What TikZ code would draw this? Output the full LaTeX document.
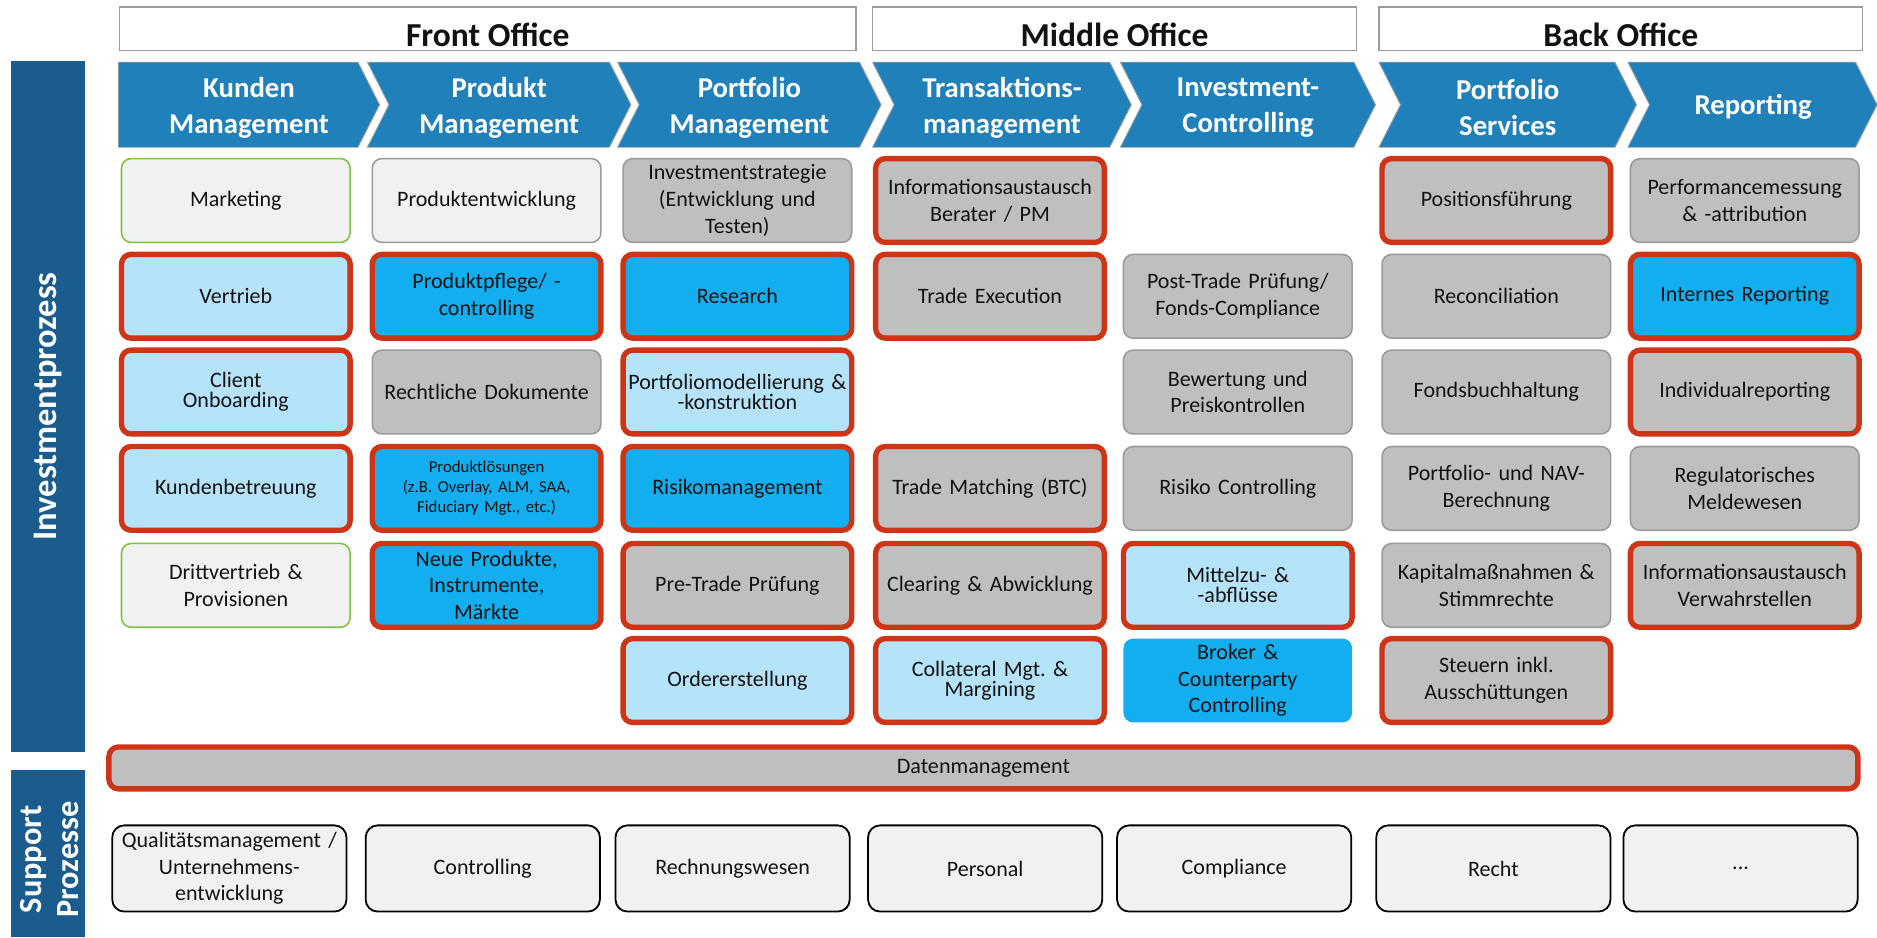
\documentclass[tikz,border=0pt]{standalone}
\usepackage{fontspec}
\setmainfont{Carlito}
\definecolor{sidec}{HTML}{1B5C8E}
\definecolor{chevc}{HTML}{1F80BA}
\definecolor{chevline}{HTML}{8E9BA6}
\definecolor{redc}{HTML}{CD3516}
\definecolor{cyanc}{HTML}{12AEEF}
\definecolor{lblue}{HTML}{B5E3FA}
\definecolor{grayc}{HTML}{BFBFBF}
\definecolor{lightc}{HTML}{F0F2F2}
\definecolor{greenc}{HTML}{7DC242}
\definecolor{grayline}{HTML}{9A9A9A}
\definecolor{txt}{HTML}{121212}
\newcommand\fs{\fontsize{18.4}{22.3}\selectfont}
\newcommand\fst{\fontsize{18.4}{16.8}\selectfont}
\newcommand\fsm{\fontsize{14}{16.7}\selectfont}
\tikzset{
  bx/.style={rectangle, rounded corners=8pt, minimum width=191pt, minimum height=70pt,
    align=center, font=\fs, text=txt, inner sep=1pt, text width=189pt},
  redb/.style={draw=redc, line width=4.5pt},
  grayb/.style={draw=grayline, line width=1.3pt},
  greenb/.style={draw=greenc, line width=1.3pt},
  fgray/.style={fill=grayc},
  flb/.style={fill=lblue},
  fcy/.style={fill=cyanc},
  flt/.style={fill=lightc},
  sup/.style={rectangle, rounded corners=10pt, minimum width=191pt, minimum height=72pt,
    align=center, font=\fs, text=txt, fill=lightc, draw=black, line width=1.5pt, text width=189pt},
  office/.style={rectangle, draw=grayline, line width=1.2pt, fill=white, minimum height=36pt},
  officetext/.style={font=\fontsize{28}{32}\bfseries\selectfont, text=txt},
  chevtext/.style={align=center, text=white, font=\fontsize{24}{30}\bfseries\selectfont},
  chevshape/.style={fill=chevc, draw=chevline, line width=0.8pt},
  side/.style={fill=sidec},
  sidetext/.style={rotate=90, align=center, text=white}
}
\newcommand\mybox[5]{\node[bx,#4] (#1) at (#2,#3) {#5};}
\begin{document}
\frenchspacing
\begin{tikzpicture}[x=1pt,y=-1pt]
\useasboundingbox (0,0) rectangle (1568,783);
% sidebars
\fill[side] (9,51) rectangle (71,628);
\node[sidetext, font=\fontsize{28.8}{32}\bfseries\selectfont] (invp) at (40,339.5) {Investmentprozess};
\fill[side] (9,643) rectangle (71,783);
\node[sidetext, font=\fontsize{27}{31}\bfseries\selectfont] (supp) at (41,718) {Support\\Prozesse};
% office headers
\node[office, minimum width=615pt] (fo) at (407.5,24) {};
\node[officetext] (fot) at (407.5,29) {Front Office};
\node[office, minimum width=404pt] (mo) at (931,24) {};
\node[officetext] (mot) at (931,29) {Middle Office};
\node[office, minimum width=404pt] (bo) at (1354,24) {};
\node[officetext] (bot) at (1354,29) {Back Office};
% chevrons
\draw[chevshape] (99,52) -- (299,52) -- (317,87.5) -- (299,123) -- (99,123) -- cycle;
\node[chevtext] (ch1) at (208,90) {Kunden\\Management};
\draw[chevshape] (307,52) -- (509,52) -- (527,87.5) -- (509,123) -- (307,123) -- (325,87.5) -- cycle;
\node[chevtext] (ch2) at (417,90) {Produkt\\Management};
\draw[chevshape] (516,52) -- (718,52) -- (736,87.5) -- (718,123) -- (516,123) -- (534,87.5) -- cycle;
\node[chevtext] (ch3) at (626,90) {Portfolio\\Management};
\draw[chevshape] (729,52) -- (927,52) -- (945,87.5) -- (927,123) -- (729,123) -- (747,87.5) -- cycle;
\node[chevtext] (ch4) at (837,90) {Transaktions-\\management};
\draw[chevshape] (936,52) -- (1131,52) -- (1149,87.5) -- (1131,123) -- (936,123) -- (954,87.5) -- cycle;
\node[chevtext] (ch5) at (1042.5,90) {Investment-\\Controlling};
\draw[chevshape] (1152,52) -- (1349,52) -- (1367,87.5) -- (1349,123) -- (1152,123) -- (1170,87.5) -- cycle;
\node[chevtext] (ch6) at (1259.5,90) {Portfolio\\Services};
\draw[chevshape] (1360,52) -- (1550,52) -- (1568,87.5) -- (1550,123) -- (1360,123) -- (1378,87.5) -- cycle;
\node[chevtext] (ch7) at (1464.5,89) {Reporting};
% row 1
\mybox{a1}{197}{167.5}{flt,greenb}{Marketing}
\mybox{b1}{406.5}{167.5}{flt,grayb}{Produktentwicklung}
\mybox{c1}{616}{167.5}{fgray,grayb}{Investmentstrategie\\(Entwicklung und\\Testen)}
\mybox{d1}{827}{167.5}{fgray,redb}{Informationsaustausch\\Berater / PM}
\mybox{f1}{1250}{167.5}{fgray,redb}{Positionsführung}
\mybox{g1}{1457.5}{167.5}{fgray,grayb}{Performancemessung\\\& -attribution}
% row 2
\mybox{a2}{197}{247.5}{flb,redb}{Vertrieb}
\mybox{b2}{406.5}{247.5}{fcy,redb}{Produktpflege/ -\\controlling}
\mybox{c2}{616}{247.5}{fcy,redb}{Research}
\mybox{d2}{827}{247.5}{fgray,redb}{Trade Execution}
\mybox{e2}{1034}{247.5}{fgray,grayb}{Post-Trade Prüfung/\\Fonds-Compliance}
\mybox{f2}{1250}{247.5}{fgray,grayb}{Reconciliation}
\mybox{g2}{1457.5}{247.5}{fcy,redb}{Internes Reporting}
% row 3
\mybox{a3}{197}{327.5}{flb,redb,font=\fst}{Client\\Onboarding}
\mybox{b3}{406.5}{327.5}{fgray,grayb}{Rechtliche Dokumente}
\mybox{c3}{616}{327.5}{flb,redb,font=\fst}{Portfoliomodellierung \&\\-konstruktion}
\mybox{e3}{1034}{327.5}{fgray,grayb}{Bewertung und\\Preiskontrollen}
\mybox{f3}{1250}{327.5}{fgray,grayb}{Fondsbuchhaltung}
\mybox{g3}{1457.5}{327.5}{fgray,redb}{Individualreporting}
% row 4
\mybox{a4}{197}{408}{flb,redb}{Kundenbetreuung}
\mybox{b4}{406.5}{408}{fcy,redb,font=\fsm}{Produktlösungen\\(z.B. Overlay, ALM, SAA,\\Fiduciary Mgt., etc.)}
\mybox{c4}{616}{408}{fcy,redb}{Risikomanagement}
\mybox{d4}{827}{408}{fgray,redb}{Trade Matching (BTC)}
\mybox{e4}{1034}{408}{fgray,grayb}{Risiko Controlling}
\mybox{f4}{1250}{408}{fgray,grayb}{Portfolio- und NAV-\\Berechnung}
\mybox{g4}{1457.5}{408}{fgray,grayb}{Regulatorisches\\Meldewesen}
% row 5
\mybox{a5}{197}{489}{flt,greenb}{Drittvertrieb \&\\Provisionen}
\mybox{b5}{406.5}{489}{fcy,redb}{Neue Produkte,\\Instrumente,\\Märkte}
\mybox{c5}{616}{489}{fgray,redb}{Pre-Trade Prüfung}
\mybox{d5}{827}{489}{fgray,redb}{Clearing \& Abwicklung}
\mybox{e5}{1034}{489}{flb,redb,font=\fst}{Mittelzu- \&\\-abflüsse}
\mybox{f5}{1250}{489}{fgray,grayb}{Kapitalmaßnahmen \&\\Stimmrechte}
\mybox{g5}{1457.5}{489}{fgray,redb}{Informationsaustausch\\Verwahrstellen}
% row 6
\mybox{c6}{616}{568.5}{flb,redb}{Ordererstellung}
\mybox{d6}{827}{568.5}{flb,redb,font=\fst}{Collateral Mgt. \&\\Margining}
\mybox{e6}{1034}{568.5}{fcy}{Broker \&\\Counterparty\\Controlling}
\mybox{f6}{1250}{568.5}{fgray,redb}{Steuern inkl.\\Ausschüttungen}
% Datenmanagement
\node[rectangle, rounded corners=8pt, minimum width=1461pt, minimum height=35pt, fill=grayc, redb,
  font=\fontsize{18.5}{21}\selectfont, text=txt] (dm) at (821.5,641.5) {Datenmanagement};
% support
\node[sup] (s1) at (191.6,725.5) {Qualitätsmanagement /\\Unternehmens-\\entwicklung};
\node[sup] (s2) at (403.3,725.5) {Controlling};
\node[sup] (s3) at (612,725.5) {Rechnungswesen};
\node[sup] (s4) at (823,725.5) {Personal};
\node[sup] (s5) at (1031,725.5) {Compliance};
\node[sup] (s6) at (1247.5,725.5) {Recht};
\node[sup] (s7) at (1454,725.5) {...};
\end{tikzpicture}
\end{document}
